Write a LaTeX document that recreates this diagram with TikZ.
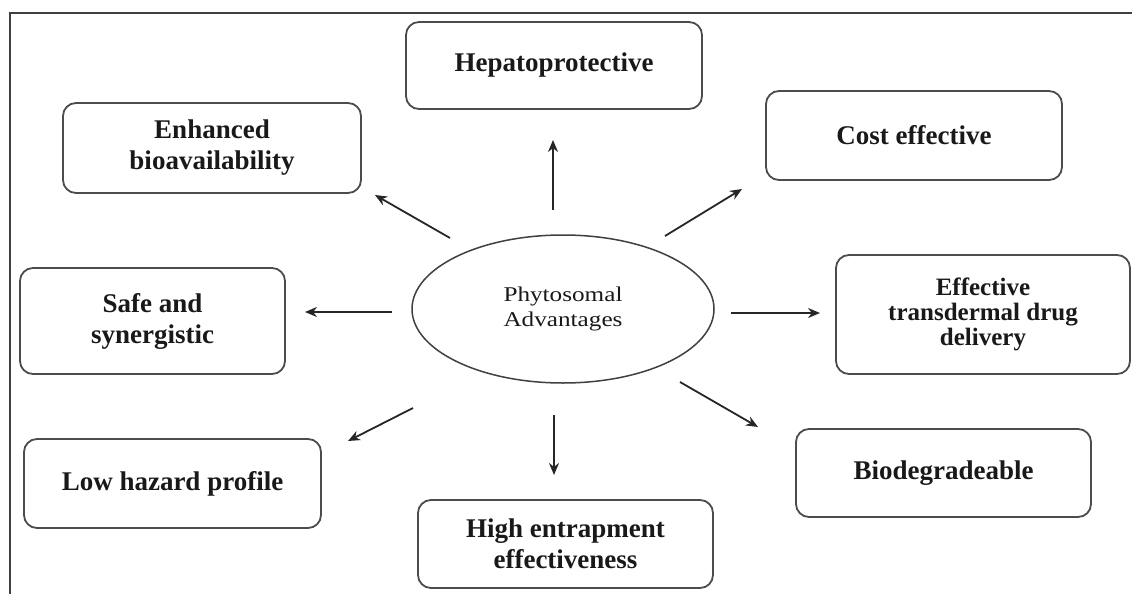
\documentclass[tikz,border=0pt]{standalone}
\usepackage{fontspec}
\setmainfont{Liberation Serif}
\usetikzlibrary{arrows.meta,shapes.geometric}
\newcommand{\stretchtext}[2]{\scalebox{#1}[1]{\begin{tabular}{@{}c@{}}#2\end{tabular}}}
\begin{document}
\begin{tikzpicture}[x=1pt,y=-1pt,
  box/.style={draw=black!70, line width=1.8pt, rounded corners=13pt, align=center,
    font=\fontsize{27}{31}\selectfont\bfseries, inner sep=0pt, text=black!90},
  arr/.style={draw=black!85, line width=1.8pt, -{Stealth[length=12pt,width=10pt]}},
  frame/.style={draw=black!75, line width=2.5pt}]
\useasboundingbox (0,0) rectangle (1132,594);
\fill[white] (0,0) rectangle (1132,594);
\draw[frame] (10,594) -- (10,13) -- (1132,13);

\node[box, minimum width=296pt, minimum height=87pt] (hep) at (554,65.5) {Hepatoprotective};
\node[box, minimum width=298pt, minimum height=90pt] (enh) at (212,148) {Enhanced\\bioavailability};
\node[box, minimum width=296pt, minimum height=89pt] (cost) at (914,135.5) {Cost effective};
\node[box, minimum width=265pt, minimum height=106pt] (safe) at (152.5,321) {Safe and\\synergistic};
\node[box, minimum width=294pt, minimum height=119pt, font=\fontsize{25}{25}\selectfont\bfseries] (trans) at (983,314.5) {Effective\\transdermal drug\\delivery};
\node[box, minimum width=297pt, minimum height=89pt] (low) at (172.5,483.5) {Low hazard profile};
\node[box, minimum width=295pt, minimum height=88pt] (bio) at (943.5,473) {Biodegradeable};
\node[box, minimum width=295pt, minimum height=88pt] (high) at (565.5,544) {High entrapment\\effectiveness};

\node[ellipse, draw=black!75, line width=1.5pt, minimum width=302pt, minimum height=148pt, inner sep=0pt,
  font=\fontsize{21}{25}\selectfont, text=black!90] (ell) at (563,309)
  {\stretchtext{1.2}{Phytosomal\\Advantages}};

\coordinate (upA) at (553,210); \coordinate (upB) at (553,140);
\coordinate (ulA) at (450,238); \coordinate (ulB) at (375,195);
\coordinate (urA) at (665,236); \coordinate (urB) at (742,189);
\coordinate (lA) at (392,312);  \coordinate (lB) at (305,312);
\coordinate (rA) at (731,313);  \coordinate (rB) at (820,313);
\coordinate (llA) at (413,408); \coordinate (llB) at (348,441);
\coordinate (dA) at (554,415);  \coordinate (dB) at (554,475);
\coordinate (lrA) at (680,382); \coordinate (lrB) at (758,427);

\draw[arr] (upA) -- (upB);
\draw[arr] (ulA) -- (ulB);
\draw[arr] (urA) -- (urB);
\draw[arr] (lA) -- (lB);
\draw[arr] (rA) -- (rB);
\draw[arr] (llA) -- (llB);
\draw[arr] (dA) -- (dB);
\draw[arr] (lrA) -- (lrB);
\end{tikzpicture}
\end{document}
